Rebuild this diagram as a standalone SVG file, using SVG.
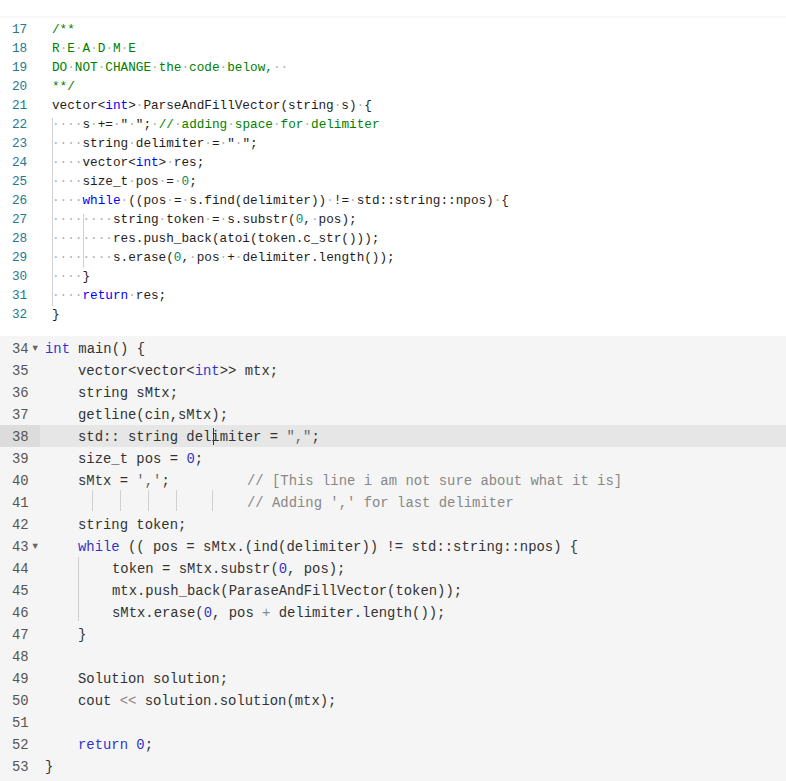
<svg xmlns="http://www.w3.org/2000/svg" width="786" height="781" viewBox="0 0 786 781">
<style>
.t{font-family:"Liberation Mono",monospace;font-size:12.7px;fill:#1e1e1e;white-space:pre}
.b{font-family:"Liberation Mono",monospace;font-size:13.9px;fill:#333;white-space:pre}
.n{fill:#237893}
.bn{fill:#555}
.d{fill:#b0b0b0}
.k{fill:#0000ff}
.c{fill:#008000}
.g{fill:#098658}
.bk{fill:#3333cc}
.bc{fill:#888}
.bs{fill:#666}
.gd{stroke:#d0d0d0;stroke-width:1}
</style>
<rect width="786" height="781" fill="#fff"/>
<line x1="0" y1="17" x2="786" y2="17" stroke="#f2f2f2"/>
<rect x="0" y="336" width="786" height="445" fill="#f5f5f5"/>
<rect x="0" y="425" width="786" height="22" fill="#e6e6e6"/>
<rect x="0" y="425" width="40" height="22" fill="#dcdcdc"/>
<g id="guides">
<line class="gd" x1="52.5" y1="118" x2="52.5" y2="306"/>
<line class="gd" x1="83.5" y1="214" x2="83.5" y2="268"/>
<line class="gd" x1="78.5" y1="557" x2="78.5" y2="621"/>
<line class="gd" x1="92.5" y1="490" x2="92.5" y2="511"/>
<line class="gd" x1="120.5" y1="490" x2="120.5" y2="511"/>
<line class="gd" x1="148.5" y1="490" x2="148.5" y2="511"/>
<line class="gd" x1="176.5" y1="490" x2="176.5" y2="511"/>
<line class="gd" x1="212.5" y1="490" x2="212.5" y2="511"/>
</g>
<g id="top" xml:space="preserve">
<text class="t n" x="12" y="33">17</text><text class="t c" x="52" y="33">/**</text>
<text class="t n" x="12" y="52">18</text><text class="t c" x="52" y="52">R<tspan class="d">·</tspan>E<tspan class="d">·</tspan>A<tspan class="d">·</tspan>D<tspan class="d">·</tspan>M<tspan class="d">·</tspan>E</text>
<text class="t n" x="12" y="71">19</text><text class="t c" x="52" y="71">DO<tspan class="d">·</tspan>NOT<tspan class="d">·</tspan>CHANGE<tspan class="d">·</tspan>the<tspan class="d">·</tspan>code<tspan class="d">·</tspan>below,<tspan class="d">··</tspan></text>
<text class="t n" x="12" y="90">20</text><text class="t c" x="52" y="90">**/</text>
<text class="t n" x="12" y="109">21</text><text class="t" x="52" y="109">vector&lt;<tspan class="k">int</tspan>&gt;<tspan class="d">·</tspan>ParseAndFillVector(string<tspan class="d">·</tspan>s)<tspan class="d">·</tspan>{</text>
<text class="t n" x="12" y="128">22</text><text class="t" x="52" y="128"><tspan class="d">····</tspan>s<tspan class="d">·</tspan>+=<tspan class="d">·</tspan>"<tspan class="d">·</tspan>";<tspan class="d">·</tspan><tspan class="c">//<tspan class="d">·</tspan>adding<tspan class="d">·</tspan>space<tspan class="d">·</tspan>for<tspan class="d">·</tspan>delimiter</tspan></text>
<text class="t n" x="12" y="147">23</text><text class="t" x="52" y="147"><tspan class="d">····</tspan>string<tspan class="d">·</tspan>delimiter<tspan class="d">·</tspan>=<tspan class="d">·</tspan>"<tspan class="d">·</tspan>";</text>
<text class="t n" x="12" y="166">24</text><text class="t" x="52" y="166"><tspan class="d">····</tspan>vector&lt;<tspan class="k">int</tspan>&gt;<tspan class="d">·</tspan>res;</text>
<text class="t n" x="12" y="185">25</text><text class="t" x="52" y="185"><tspan class="d">····</tspan>size_t<tspan class="d">·</tspan>pos<tspan class="d">·</tspan>=<tspan class="d">·</tspan><tspan class="g">0</tspan>;</text>
<text class="t n" x="12" y="204">26</text><text class="t" x="52" y="204"><tspan class="d">····</tspan><tspan class="k">while</tspan><tspan class="d">·</tspan>((pos<tspan class="d">·</tspan>=<tspan class="d">·</tspan>s.find(delimiter))<tspan class="d">·</tspan>!=<tspan class="d">·</tspan>std::string::npos)<tspan class="d">·</tspan>{</text>
<text class="t n" x="12" y="223">27</text><text class="t" x="52" y="223"><tspan class="d">········</tspan>string<tspan class="d">·</tspan>token<tspan class="d">·</tspan>=<tspan class="d">·</tspan>s.substr(<tspan class="g">0</tspan>,<tspan class="d">·</tspan>pos);</text>
<text class="t n" x="12" y="242">28</text><text class="t" x="52" y="242"><tspan class="d">········</tspan>res.push_back(atoi(token.c_str()));</text>
<text class="t n" x="12" y="261">29</text><text class="t" x="52" y="261"><tspan class="d">········</tspan>s.erase(<tspan class="g">0</tspan>,<tspan class="d">·</tspan>pos<tspan class="d">·</tspan>+<tspan class="d">·</tspan>delimiter.length());</text>
<text class="t n" x="12" y="280">30</text><text class="t" x="52" y="280"><tspan class="d">····</tspan>}</text>
<text class="t n" x="12" y="299">31</text><text class="t" x="52" y="299"><tspan class="d">····</tspan><tspan class="k">return</tspan><tspan class="d">·</tspan>res;</text>
<text class="t n" x="12" y="318">32</text><text class="t" x="52" y="318">}</text>
</g>
<g id="bottom" xml:space="preserve">
<text class="b bn" x="12" y="353">34</text><text class="b bs" x="31" y="352" font-size="9">▾</text><text class="b" x="45" y="353"><tspan class="bk">int</tspan> main() {</text>
<text class="b bn" x="12" y="375">35</text><text class="b" x="78" y="375">vector&lt;vector&lt;<tspan class="bk">int</tspan>&gt;&gt; mtx;</text>
<text class="b bn" x="12" y="397">36</text><text class="b" x="78" y="397">string sMtx;</text>
<text class="b bn" x="12" y="419">37</text><text class="b" x="78" y="419">getline(cin,sMtx);</text>
<text class="b bn" x="12" y="441">38</text><text class="b" x="78" y="441">std:: string delimiter = <tspan class="bs">","</tspan>;</text>
<line x1="213.5" y1="428" x2="213.5" y2="445" stroke="#333"/>
<text class="b bn" x="12" y="463">39</text><text class="b" x="78" y="463">size_t pos = <tspan class="bk">0</tspan>;</text>
<text class="b bn" x="12" y="485">40</text><text class="b" x="78" y="485">sMtx = <tspan class="bs">','</tspan>;</text><text class="b bc" x="247" y="485">// [This line i am not sure about what it is]</text>
<text class="b bn" x="12" y="507">41</text><text class="b bc" x="247" y="507">// Adding ',' for last delimiter</text>
<text class="b bn" x="12" y="529">42</text><text class="b" x="78" y="529">string token;</text>
<text class="b bn" x="12" y="551">43</text><text class="b bs" x="31" y="550" font-size="9">▾</text><text class="b" x="78" y="551"><tspan class="bk">while</tspan> (( pos = sMtx.(ind(delimiter)) != std::string::npos) {</text>
<text class="b bn" x="12" y="573">44</text><text class="b" x="112" y="573">token = sMtx.substr(<tspan class="bk">0</tspan>, pos);</text>
<text class="b bn" x="12" y="595">45</text><text class="b" x="112" y="595">mtx.push_back(ParaseAndFillVector(token));</text>
<text class="b bn" x="12" y="617">46</text><text class="b" x="112" y="617">sMtx.erase(<tspan class="bk">0</tspan>, pos <tspan class="bc">+</tspan> delimiter.length());</text>
<text class="b bn" x="12" y="639">47</text><text class="b" x="78" y="639">}</text>
<text class="b bn" x="12" y="661">48</text>
<text class="b bn" x="12" y="683">49</text><text class="b" x="78" y="683">Solution solution;</text>
<text class="b bn" x="12" y="705">50</text><text class="b" x="78" y="705">cout <tspan class="bc">&lt;&lt;</tspan> solution.solution(mtx);</text>
<text class="b bn" x="12" y="727">51</text>
<text class="b bn" x="12" y="749">52</text><text class="b" x="78" y="749"><tspan class="bk">return</tspan> <tspan class="bk">0</tspan>;</text>
<text class="b bn" x="12" y="771">53</text><text class="b" x="45" y="771">}</text>
</g>
</svg>
